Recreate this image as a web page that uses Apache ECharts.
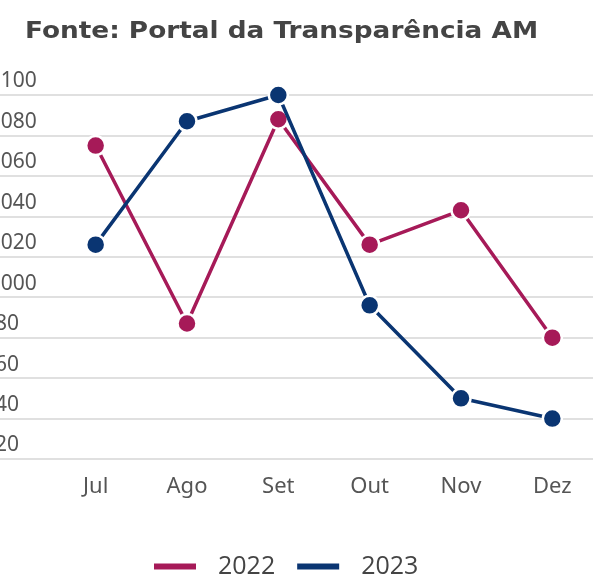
<!DOCTYPE html>
<html>
<head>
<meta charset="utf-8">
<script src="https://cdn.jsdelivr.net/npm/echarts@6/dist/echarts.min.js"></script>
<style>
  html, body { margin: 0; padding: 0; background: #fff; }
  #chart { width: 593px; height: 578px; }
</style>
</head>
<body>
<div id="chart"></div>
<script>
const months = ['Jul', 'Ago', 'Set', 'Out', 'Nov', 'Dez']
const values2022 = [1075, 987, 1088, 1026, 1043, 980]
const values2023 = [1026, 1087, 1100, 996, 950, 940]
const yMin = 920
const yMax = 1100
const yStep = 20

const red = '#a61a58'
const blue = '#0a3572'

// pt-BR thousands separator
function fmt(v) {
  return v.toLocaleString('pt-BR')
}

const chart = echarts.init(document.getElementById('chart'))
const option = {
  animation: false,
  // title drawn as graphic text so it can be widened like the original font
  graphic: [
    {
      type: 'text',
      left: 25,
      top: 21,
      scaleX: 1.17,
      style: {
        text: 'Fonte: Portal da Transparência AM',
        fontFamily: 'DejaVu Sans',
        fontWeight: 'bold',
        fontSize: 22.5,
        fill: '#444'
      }
    }
  ],
  legend: {
    bottom: -6,
    left: 147,
    itemWidth: 44,
    itemHeight: 8,
    itemGap: 20,
    icon: 'rect',
    textStyle: {
      fontFamily: 'Open Sans',
      fontSize: 25,
      color: '#444',
      padding: [0, 0, 0, 16]
    },
    data: ['2022', '2023']
  },
  grid: [
    // gridlines across the full width
    { left: 0, right: 0, top: 95, height: 364, outerBoundsMode: 'none' },
    // plotting area
    { left: 50, right: -5, top: 95, height: 364, outerBoundsMode: 'none' }
  ],
  xAxis: [
    { gridIndex: 0, type: 'value', show: false, min: 0, max: 1 },
    {
      gridIndex: 1,
      type: 'category',
      data: months,
      boundaryGap: true,
      axisLine: { show: false },
      axisTick: { show: false },
      axisLabel: {
        margin: 17,
        fontFamily: 'Noto Sans',
        fontSize: 22,
        color: '#555'
      }
    }
  ],
  yAxis: [
    {
      gridIndex: 0,
      type: 'value',
      min: yMin,
      max: yMax,
      interval: yStep,
      axisLine: { show: false },
      axisTick: { show: false },
      splitLine: { lineStyle: { color: '#d6d6d6', width: 1.5 } },
      axisLabel: {
        align: 'left',
        verticalAlign: 'bottom',
        margin: 17,
        padding: [0, 0, 3, 0],
        fontFamily: 'Noto Sans',
        fontSize: 21,
        color: '#555',
        formatter: fmt
      }
    },
    {
      gridIndex: 1,
      type: 'value',
      min: yMin,
      max: yMax,
      interval: yStep,
      show: false,
      splitLine: { show: false }
    }
  ],
  series: [
    {
      name: '2022',
      type: 'line',
      xAxisIndex: 1,
      yAxisIndex: 1,
      data: values2022,
      color: red,
      symbol: 'circle',
      symbolSize: 19,
      lineStyle: { width: 3.5, color: red },
      itemStyle: { color: red, borderColor: '#fff', borderWidth: 2.5 },
      z: 2
    },
    {
      name: '2023',
      type: 'line',
      xAxisIndex: 1,
      yAxisIndex: 1,
      data: values2023,
      color: blue,
      symbol: 'circle',
      symbolSize: 19,
      lineStyle: { width: 3.5, color: blue },
      itemStyle: { color: blue, borderColor: '#fff', borderWidth: 2.5 },
      z: 3
    }
  ]
}
chart.setOption(option)
</script>
</body>
</html>
